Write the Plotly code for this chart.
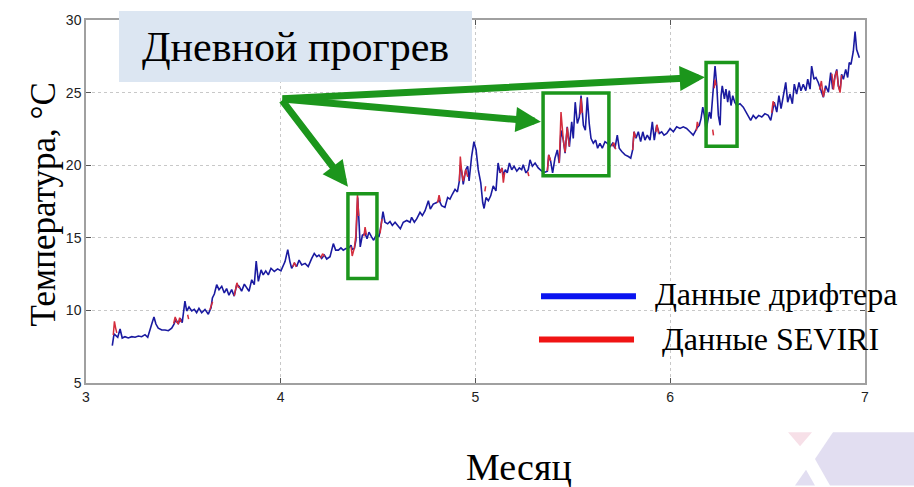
import plotly.graph_objects as go

# Drifter sea-surface temperature record: time in months, temperature in °C
drifter_month = [
    3.135, 3.144, 3.163, 3.175, 3.186, 3.200, 3.217, 3.235, 3.252, 3.269,
    3.286, 3.303, 3.317, 3.329, 3.340, 3.349, 3.359, 3.371, 3.389, 3.406,
    3.423, 3.440, 3.452, 3.461, 3.474, 3.484, 3.494, 3.508, 3.517, 3.529,
    3.543, 3.556, 3.568, 3.580, 3.594, 3.611, 3.628, 3.642, 3.649, 3.659,
    3.671, 3.683, 3.697, 3.710, 3.722, 3.734, 3.748, 3.761, 3.774, 3.786,
    3.799, 3.813, 3.825, 3.837, 3.851, 3.864, 3.874, 3.885, 3.899, 3.910,
    3.923, 3.936, 3.950, 3.967, 3.984, 4.001, 4.022, 4.036, 4.047, 4.056,
    4.070, 4.082, 4.094, 4.108, 4.125, 4.141, 4.159, 4.172, 4.185, 4.196,
    4.210, 4.224, 4.236, 4.253, 4.270, 4.282, 4.296, 4.309, 4.321, 4.334,
    4.347, 4.361, 4.367, 4.378, 4.386, 4.395, 4.402, 4.408, 4.419, 4.433,
    4.443, 4.453, 4.467, 4.477, 4.493, 4.504, 4.515, 4.525, 4.535, 4.549,
    4.561, 4.573, 4.587, 4.601, 4.614, 4.629, 4.647, 4.664, 4.672, 4.686,
    4.698, 4.715, 4.727, 4.741, 4.758, 4.768, 4.783, 4.801, 4.813, 4.826,
    4.843, 4.857, 4.869, 4.881, 4.895, 4.907, 4.917, 4.922, 4.929, 4.937,
    4.950, 4.960, 4.967, 4.980, 4.992, 5.003, 5.014, 5.027, 5.037, 5.044,
    5.054, 5.066, 5.078, 5.091, 5.105, 5.116, 5.126, 5.136, 5.143, 5.153,
    5.163, 5.174, 5.186, 5.198, 5.212, 5.225, 5.237, 5.245, 5.259, 5.271,
    5.280, 5.292, 5.306, 5.322, 5.340, 5.357, 5.369, 5.376, 5.386, 5.396,
    5.408, 5.420, 5.430, 5.439, 5.451, 5.460, 5.471, 5.482, 5.494, 5.502,
    5.512, 5.523, 5.533, 5.542, 5.554, 5.564, 5.574, 5.584, 5.593, 5.605,
    5.617, 5.627, 5.639, 5.651, 5.665, 5.677, 5.691, 5.704, 5.716, 5.728,
    5.738, 5.751, 5.768, 5.785, 5.797, 5.807, 5.814, 5.824, 5.836, 5.848,
    5.859, 5.870, 5.882, 5.896, 5.908, 5.918, 5.930, 5.944, 5.956, 5.968,
    5.982, 5.999, 6.016, 6.033, 6.050, 6.067, 6.084, 6.101, 6.118, 6.132,
    6.139, 6.149, 6.158, 6.167, 6.175, 6.184, 6.190, 6.201, 6.209, 6.216,
    6.225, 6.230, 6.239, 6.247, 6.256, 6.261, 6.267, 6.278, 6.286, 6.295,
    6.303, 6.312, 6.321, 6.331, 6.341, 6.358, 6.375, 6.389, 6.401, 6.413,
    6.426, 6.440, 6.454, 6.470, 6.486, 6.503, 6.516, 6.526, 6.534, 6.547,
    6.558, 6.569, 6.580, 6.593, 6.603, 6.615, 6.627, 6.637, 6.649, 6.661,
    6.671, 6.683, 6.696, 6.706, 6.718, 6.726, 6.738, 6.748, 6.760, 6.774,
    6.786, 6.798, 6.812, 6.824, 6.834, 6.846, 6.855, 6.863, 6.872, 6.880,
    6.889, 6.901, 6.911, 6.919, 6.928, 6.940, 6.949, 6.957, 6.966, 6.971,
]
drifter_temp = [
    7.58, 8.38, 8.15, 8.72, 8.10, 8.19, 8.10, 8.19, 8.15, 8.24,
    8.19, 8.33, 8.15, 8.60, 9.16, 9.55, 9.06, 8.78, 8.65, 8.65,
    8.60, 8.78, 9.06, 9.40, 9.06, 9.46, 9.16, 10.64, 9.96, 10.23,
    9.96, 10.07, 9.84, 10.14, 9.84, 10.07, 9.74, 10.18, 10.86, 11.13,
    11.77, 11.43, 11.66, 11.20, 11.50, 11.05, 11.43, 10.98, 11.77, 11.66,
    11.32, 11.81, 11.59, 11.32, 12.11, 11.77, 13.40, 12.00, 12.79, 12.45,
    12.72, 12.45, 12.90, 12.68, 12.86, 12.72, 13.36, 14.19, 13.36, 12.90,
    13.24, 13.02, 13.47, 13.13, 13.24, 13.02, 13.58, 13.92, 13.70, 13.81,
    13.58, 13.81, 13.54, 13.70, 14.60, 14.15, 14.15, 14.31, 14.15, 14.26,
    14.26, 14.49, 14.20, 14.26, 14.83, 17.77, 16.07, 14.37, 15.17, 15.30,
    14.94, 15.39, 15.05, 14.83, 15.28, 15.05, 15.85, 16.80, 16.07, 15.96,
    16.12, 15.85, 16.07, 15.80, 15.62, 16.07, 16.19, 16.07, 16.41, 16.07,
    16.30, 16.75, 16.53, 16.87, 17.55, 16.98, 17.32, 17.43, 17.60, 17.21,
    17.09, 17.77, 17.66, 18.00, 18.34, 18.16, 18.91, 20.00, 19.59, 18.68,
    19.69, 19.93, 18.91, 20.60, 21.62, 21.05, 19.69, 18.79, 17.43, 17.02,
    17.77, 17.55, 17.89, 18.57, 18.23, 20.15, 19.47, 19.81, 19.30, 19.69,
    19.47, 20.15, 19.69, 19.93, 19.59, 19.81, 19.69, 20.03, 19.47, 19.69,
    20.37, 19.93, 20.15, 19.81, 19.59, 19.52, 19.59, 20.71, 20.26, 19.47,
    20.49, 21.05, 20.15, 22.40, 21.73, 20.83, 22.64, 21.28, 22.98, 21.85,
    24.34, 22.87, 23.32, 24.79, 22.75, 22.41, 24.68, 22.87, 21.85, 21.51,
    21.73, 21.17, 21.51, 21.17, 21.62, 21.51, 21.28, 21.51, 21.17, 22.07,
    21.17, 20.94, 20.71, 20.60, 20.49, 21.05, 22.30, 21.85, 22.30, 21.62,
    22.30, 21.73, 22.07, 21.73, 22.98, 21.73, 22.75, 22.19, 22.30, 22.07,
    22.19, 22.53, 22.30, 22.64, 22.53, 22.64, 22.53, 22.30, 22.07, 22.41,
    22.60, 22.75, 23.21, 24.00, 23.43, 22.41, 22.98, 23.66, 23.21, 24.34,
    25.92, 26.83, 25.47, 23.43, 22.75, 24.79, 25.47, 24.57, 25.24, 24.34,
    25.13, 24.11, 24.79, 24.34, 24.11, 24.23, 24.00, 23.66, 23.43, 23.09,
    23.43, 23.21, 23.43, 23.32, 23.55, 23.43, 23.09, 23.89, 24.34, 23.66,
    24.79, 23.89, 24.79, 25.70, 24.34, 24.90, 24.23, 25.58, 24.90, 25.70,
    25.13, 25.58, 25.13, 25.92, 25.24, 26.83, 25.92, 26.04, 25.70, 25.13,
    24.68, 25.47, 25.02, 26.38, 25.24, 26.15, 26.60, 25.47, 25.13, 26.26,
    25.92, 26.60, 26.04, 27.06, 26.94, 27.85, 29.21, 27.96, 27.51, 27.40,
]

# SEVIRI satellite retrievals (clear-sky only; None marks gaps)
seviri_month = [
    3.140, 3.146, 3.152, 3.158, None,
    3.450, 3.458, 3.466, 3.474, 3.481, 3.488, None,
    3.522, 3.527, None,
    3.636, 3.643, 3.650, None,
    3.761, 3.768, 3.775, 3.782, 3.790, None,
    4.062, 4.070, 4.080, None,
    4.205, 4.215, 4.225, None,
    4.361, 4.367, 4.378, 4.386, 4.394, 4.400, None,
    4.427, 4.433, 4.440, None,
    4.510, 4.515, 4.520, None,
    4.805, 4.813, 4.820, None,
    4.917, 4.922, 4.929, 4.937, 4.950, 4.960, None,
    5.048, 5.052, None,
    5.126, 5.136, 5.143, 5.150, None,
    5.268, 5.274, None,
    5.369, 5.376, 5.386, None,
    5.430, 5.439, 5.451, 5.460, 5.471, 5.482, None,
    5.538, 5.542, 5.548, None,
    5.700, 5.710, 5.720, None,
    5.807, 5.814, 5.822, None,
    5.926, 5.932, 5.940, None,
    6.134, 6.139, 6.145, None,
    6.218, 6.222, None,
    6.226, 6.230, 6.235, None,
    6.521, 6.528, 6.536, None,
    6.767, 6.776, 6.786, 6.795, None,
    6.830, 6.838, 6.846, 6.855, 6.864, 6.872, 6.880,
]
seviri_temp = [
    8.30, 9.25, 8.80, 8.45, None,
    9.10, 9.55, 9.20, 9.10, 9.50, 9.20, None,
    9.70, 9.40, None,
    10.05, 10.30, 10.60, None,
    11.00, 11.40, 11.90, 11.60, 11.55, None,
    13.00, 13.30, 13.00, None,
    13.60, 13.90, 13.70, None,
    14.40, 13.75, 14.30, 15.20, 18.00, 16.50, None,
    15.10, 15.73, 15.20, None,
    15.30, 15.85, 16.30, None,
    17.40, 17.93, 17.50, None,
    18.90, 20.60, 19.60, 18.90, 19.70, 19.20, None,
    18.20, 18.55, None,
    19.50, 19.81, 18.79, 19.50, None,
    19.55, 19.25, None,
    19.60, 20.71, 20.30, None,
    20.15, 23.66, 21.70, 20.90, 22.60, 21.30, None,
    23.50, 24.60, 23.60, None,
    21.30, 21.55, 21.10, None,
    21.05, 22.30, 21.90, None,
    22.30, 22.80, 22.20, None,
    22.40, 22.98, 22.70, None,
    22.45, 22.05, None,
    25.30, 25.90, 25.50, None,
    23.60, 24.40, 24.10, None,
    25.20, 25.80, 24.70, 25.30, None,
    26.30, 25.20, 26.10, 26.50, 25.40, 25.00, 26.20,
]

x_ticks = [3, 4, 5, 6, 7]
y_ticks = [5, 10, 15, 20, 25, 30]

series_names = ["Данные дрифтера", "Данные SEVIRI"]
highlight_title = "Дневной прогрев"
x_title = "Месяц"
y_title = "Температура, °C"

SERIF = "Liberation Serif"
SANS = "Liberation Sans"
GREEN = "#1c961c"

fig = go.Figure()

fig.add_trace(go.Scatter(
    x=drifter_month, y=drifter_temp, mode="lines",
    line=dict(color="#1a1aa0", width=1.6),
    name=series_names[0], showlegend=False,
))
fig.add_trace(go.Scatter(
    x=seviri_month, y=seviri_temp, mode="lines",
    line=dict(color="#d42c3c", width=1.5),
    connectgaps=False, name=series_names[1], showlegend=False,
))

axis_common = dict(
    showgrid=True, gridcolor="#c8c8c8", griddash="dot", gridwidth=1,
    showline=True, linecolor="#a0a0a0", linewidth=1.5, mirror="ticks",
    ticks="inside", ticklen=5, tickcolor="#555555", tickwidth=1,
    tickfont=dict(family=SANS, size=14, color="#222222"),
    zeroline=False,
)

fig.update_layout(
    width=914, height=487,
    margin=dict(l=86, r=49, t=15, b=104),
    paper_bgcolor="white", plot_bgcolor="white",
    xaxis=dict(range=[3, 7], tickvals=x_ticks, **axis_common),
    yaxis=dict(range=[5, 30], tickvals=y_ticks, **axis_common),
    showlegend=False,
)

# Highlighted daytime-warming episodes
boxes = [(4.345, 4.494, 12.20, 18.04), (5.347, 5.685, 19.27, 24.97),
         (6.184, 6.343, 21.30, 27.08)]
for x0, x1, y0, y1 in boxes:
    fig.add_shape(type="rect", xref="x", yref="y", x0=x0, x1=x1, y0=y0, y1=y1,
                  line=dict(color=GREEN, width=3.5), fillcolor="rgba(0,0,0,0)")

# Arrows from the caption towards each episode
tail = (4.001, 24.57)
tips = [(4.345, 18.52), (5.336, 23.00), (6.178, 26.06)]
for tx, ty in tips:
    fig.add_annotation(x=tx, y=ty, ax=tail[0], ay=tail[1], xref="x", yref="y",
                       axref="x", ayref="y", text="", showarrow=True,
                       arrowhead=2, arrowsize=0.72, arrowwidth=7,
                       arrowcolor=GREEN, standoff=0, startstandoff=0)

# Caption box
fig.add_annotation(x=0.269, y=0.928, xref="paper", yref="paper",
                   text=highlight_title, showarrow=False,
                   font=dict(family=SERIF, size=42, color="black"),
                   bgcolor="#dce6f2", width=353, height=71, borderpad=0,
                   borderwidth=0, xanchor="center", yanchor="middle")

# Legend samples drawn as thick strokes with labels
legend_rows = [("#0a14f0", 0.5841, 0.7060, 0.2391, 0.7279, 0.2446),
               ("#f01414", 0.5815, 0.7035, 0.1196, 0.7368, 0.1223)]
for (col, lx0, lx1, ly, tx, ty), label in zip(legend_rows, series_names):
    fig.add_shape(type="line", xref="paper", yref="paper", x0=lx0, x1=lx1,
                  y0=ly, y1=ly, line=dict(color=col, width=6))
    fig.add_annotation(x=tx, y=ty, xref="paper", yref="paper", text=label,
                       showarrow=False, xanchor="left", yanchor="middle",
                       font=dict(family=SERIF, size=32, color="black"))

# Axis titles
fig.add_annotation(x=-0.0552, y=0.4918, xref="paper", yref="paper",
                   text=y_title, textangle=-90, showarrow=False,
                   xanchor="center", yanchor="middle",
                   font=dict(family=SERIF, size=35, color="black"))
fig.add_annotation(x=0.5558, y=-0.231, xref="paper", yref="paper",
                   text=x_title, showarrow=False,
                   xanchor="center", yanchor="middle",
                   font=dict(family=SERIF, size=38, color="black"))

# Faint corner emblem
corner_shapes = [
    ("M 0.9589 -0.1359 L 1.0629 -0.1359 L 1.0629 -0.2826 L 0.9551 -0.2826 L 0.9358 -0.2092 Z", "#e2def1"),
    ("M 0.9012 -0.1359 L 0.9320 -0.1359 L 0.9166 -0.1739 Z", "#f7e0e8"),
    ("M 0.9101 -0.2826 L 0.9358 -0.2826 L 0.9243 -0.2391 Z", "#e2def1"),
]
for path, col in corner_shapes:
    fig.add_shape(type="path", xref="paper", yref="paper", path=path,
                  fillcolor=col, line=dict(width=0), layer="below")

fig.write_html("out.html")
